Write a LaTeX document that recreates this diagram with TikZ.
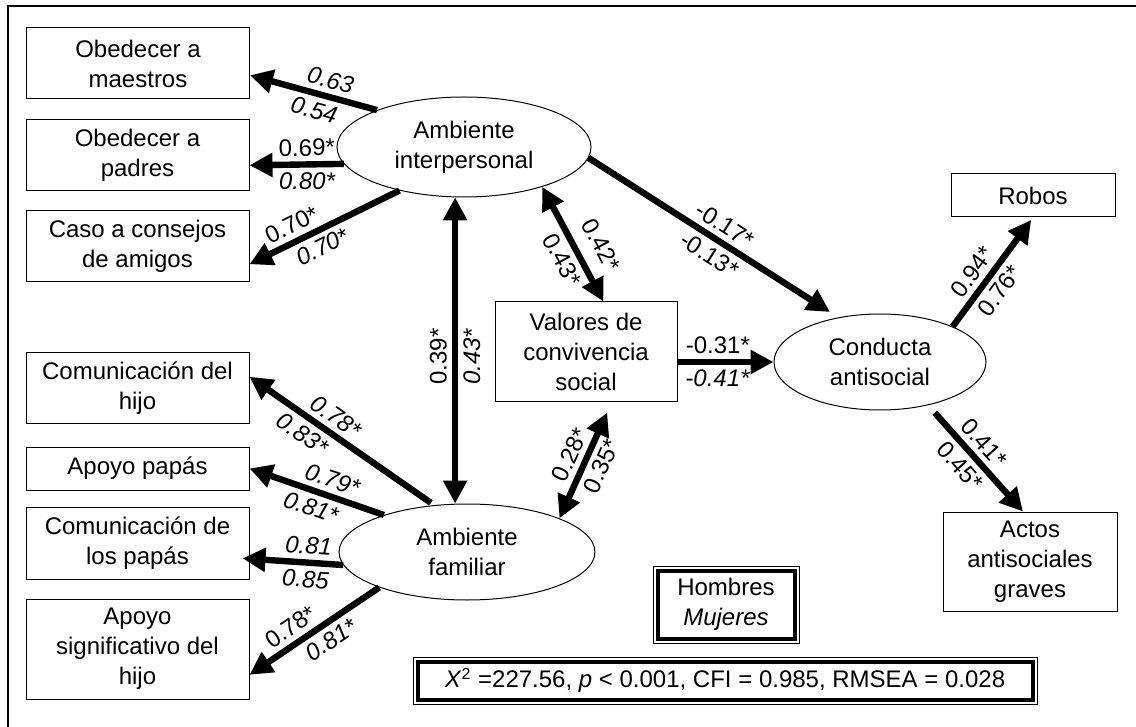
\documentclass[tikz,border=0pt]{standalone}
\usepackage{fontspec}
\setmainfont{Liberation Sans}
\usetikzlibrary{arrows.meta,shapes.geometric,calc}

\begin{document}
\begin{tikzpicture}[x=0.5pt, y=-0.5pt, every node/.style={font=\fontsize{12}{15}\selectfont}]
  \tikzset{Box/.style={draw, line width=0.5pt, align=center, inner sep=0pt, minimum width=111.5pt},
    Latent/.style={draw, ellipse, line width=0.5pt, align=center, inner sep=0pt},
    Legend/.style={draw, line width=2pt, align=center, inner sep=0pt, outer sep=0pt},
    Effect/.style={line width=3.2pt, -{Triangle[length=11.5pt,width=11.5pt]}},
    Corr/.style={line width=3.2pt, {Triangle[length=11.5pt,width=11.5pt]}-{Triangle[length=11.5pt,width=11.5pt]}},
    Coef/.style={sloped, inner sep=2.5pt}}
  \useasboundingbox (0,0) rectangle (1136,727);
  \draw[line width=1pt] (8,727) -- (8,6) -- (1136,6);
  \node[Box, minimum height=35.5pt] (om) at (138,63.5) {Obedecer a\\maestros};
  \node[Box, minimum height=35.5pt] (op) at (137.5,155.5) {Obedecer a\\padres};
  \node[Box, minimum height=35.5pt] (cc) at (137.5,246.5) {Caso a consejos\\de amigos};
  \node[Box, minimum height=35.5pt] (ch) at (137.5,388.5) {Comunicación del\\hijo};
  \node[Box, minimum height=21.5pt] (ap) at (137.5,468.5) {Apoyo papás};
  \node[Box, minimum height=36pt] (cp) at (137.5,543) {Comunicación de\\los papás};
  \node[Box, minimum height=50pt] (as) at (137.5,649) {Apoyo\\significativo del\\hijo};
  \node[Box, minimum width=91pt, minimum height=50pt] (vs) at (586,352) {Valores de\\convivencia\\social};
  \node[Box, minimum width=82pt, minimum height=21.5pt] (rb) at (1033,195.5) {Robos};
  \node[Box, minimum width=87pt, minimum height=49.5pt] (aa) at (1030,561.5) {Actos\\antisociales\\graves};
  \node[Latent, minimum width=127pt, minimum height=50pt] (ai) at (464,147) {Ambiente\\interpersonal};
  \node[Latent, minimum width=128pt, minimum height=48pt] (af) at (467,552) {Ambiente\\familiar};
  \node[Latent, minimum width=106pt, minimum height=48pt] (ca) at (880,362) {Conducta\\antisocial};
  \node[Legend, minimum width=68.5pt, minimum height=34pt] (hm) at (726,604.5) {Hombres\\\textit{Mujeres}};
  \draw[line width=0.5pt] ([shift={(-2.25pt,2.25pt)}]hm.north west) rectangle ([shift={(2.25pt,-2.25pt)}]hm.south east);
  \node[Legend, minimum width=307.5pt, minimum height=19pt] (fi) at (725,680.5) {\textit{X}\textsuperscript{2} =227.56, \textit{p} < 0.001, CFI = 0.985, RMSEA = 0.028};
  \draw[line width=0.5pt] ([shift={(-2.25pt,2.25pt)}]fi.north west) rectangle ([shift={(2.25pt,-2.25pt)}]fi.south east);

  \draw[Effect] (ai.157) -- node[Coef, above, pos=0.4] {\textit{0.63}} node[Coef, below, pos=0.46] {\textit{0.54}} (om.-6);
  \draw[Effect] (ai.188) -- node[Coef, above, pos=0.39] {0.69*} node[Coef, below, pos=0.39] {\textit{0.80*}} (op.-5);
  \draw[Effect] (ai.214) -- node[Coef, above, pos=0.67] {0.70*} node[Coef, below, pos=0.56] {\textit{0.70*}} (cc.-9.5);
  \draw[Effect, shorten <=2pt] (af.125) -- node[Coef, above, pos=0.58] {\textit{0.78*}} node[Coef, below, pos=0.66] {\textit{0.83*}} (ch.6);
  \draw[Effect] (af.156) -- node[Coef, above, pos=0.42] {\textit{0.79*}} node[Coef, below, pos=0.5] {\textit{0.81*}} (ap.east);
  \draw[Effect, shorten >=-3.5pt] (af.186) -- node[Coef, above, pos=0.38] {\textit{0.81}} node[Coef, below, pos=0.39] {\textit{0.85}} (cp.-8);
  \draw[Effect] (af.202) -- node[Coef, above, pos=0.61] {0.78*} node[Coef, below, pos=0.44] {\textit{0.81*}} (as.-13);

  \draw[Corr] (ai.260 |- af.north) -- node[Coef, above, pos=0.48] {0.39*} node[Coef, below, pos=0.48] {\textit{0.43*}} (ai.260);
  \draw[Corr] (ai.-27) -- node[Coef, above=4pt, pos=0.61] {0.42*} node[Coef, below, pos=0.57] {0.43*} (vs.71);
  \draw[Corr, shorten >=5.5pt] (af.20) -- node[Coef, above, pos=0.49] {0.28*} node[Coef, below, pos=0.51] {0.35*} (vs.-63.4);
  \draw[Effect, shorten >=5pt] (ai.-5) -- node[Coef, above, pos=0.51] {-0.17*} node[Coef, below, pos=0.52] {-0.13*} (ca.133);
  \draw[Effect] (vs.east |- ca.west) -- node[Coef, above, pos=0.42] {-0.31*} node[Coef, below, pos=0.42] {\textit{-0.41*}} (ca.west);
  \draw[Effect, shorten >=1.5pt] (ca.26) -- node[Coef, above, pos=0.41] {0.94*} node[Coef, below, pos=0.42] {0.76*} (rb.south);
  \draw[Effect, shorten <=5pt] (ca.-42) -- node[Coef, above, pos=0.46] {0.41*} node[Coef, below, pos=0.47] {0.45*} (aa.98);
\end{tikzpicture}
\end{document}
